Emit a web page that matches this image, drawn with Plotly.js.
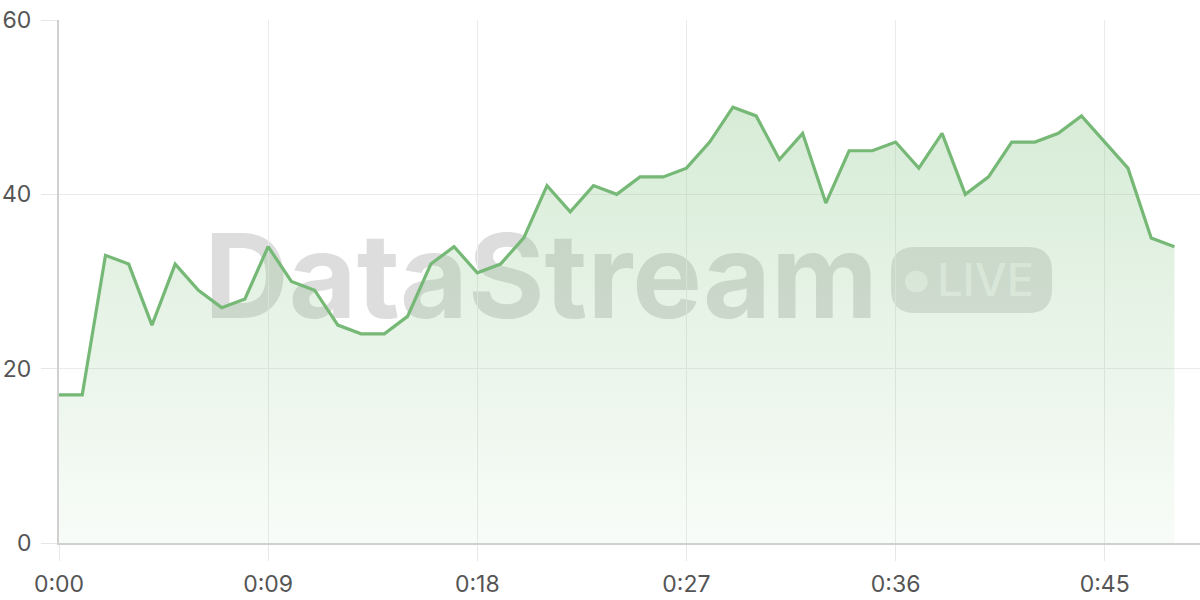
<!DOCTYPE html>
<html>
<head>
<meta charset="utf-8">
<script src="https://cdn.plot.ly/plotly-3.0.1.min.js"></script>
<style>
  html, body { margin: 0; padding: 0; background: #fff; }
  #chart { width: 1200px; height: 600px; }
</style>
</head>
<body>
<div id="chart"></div>
<script>
// seconds since start
const seconds = [0, 1, 2, 3, 4, 5, 6, 7, 8, 9, 10, 11, 12, 13, 14, 15, 16, 17, 18, 19,
  20, 21, 22, 23, 24, 25, 26, 27, 28, 29, 30, 31, 32, 33, 34, 35, 36, 37, 38, 39,
  40, 41, 42, 43, 44, 45, 46, 47, 48];
const values = [17, 17, 33, 32, 25, 32, 29, 27, 28, 34, 30, 29, 25, 24, 24, 26, 32, 34, 31, 32,
  35, 41, 38, 41, 40, 42, 42, 43, 46, 50, 49, 44, 47, 39, 45, 45, 46, 43, 47, 40,
  42, 46, 46, 47, 49, 46, 43, 35, 34];
const xTickVals = [0, 9, 18, 27, 36, 45];
const xTickText = ['0:00', '0:09', '0:18', '0:27', '0:36', '0:45'];
const yTickVals = [0, 20, 40, 60];

// plot area in page pixels, used to place the watermark
const L = 59, R = 1200, T = 20, B = 543;
const px = x => (x - L) / (R - L);
const py = y => (B - y) / (B - T);

function pillPath(x0, y0, x1, y1, r) {
  const p = (x, y) => px(x) + ',' + py(y);
  return 'M' + p(x0 + r, y0) + ' L' + p(x1 - r, y0) + ' Q' + p(x1, y0) + ' ' + p(x1, y0 + r) +
    ' L' + p(x1, y1 - r) + ' Q' + p(x1, y1) + ' ' + p(x1 - r, y1) +
    ' L' + p(x0 + r, y1) + ' Q' + p(x0, y1) + ' ' + p(x0, y1 - r) +
    ' L' + p(x0, y0 + r) + ' Q' + p(x0, y0) + ' ' + p(x0 + r, y0) + ' Z';
}

const trace = {
  x: seconds,
  y: values,
  type: 'scatter',
  mode: 'lines',
  line: { color: '#76b876', width: 3.2 },
  fill: 'tozeroy',
  fillgradient: {
    type: 'vertical',
    start: 0,
    stop: 50,
    colorscale: [[0, 'rgba(120,190,120,0.05)'], [1, 'rgba(120,190,120,0.30)']]
  },
  hoverinfo: 'skip'
};

const axisFont = { family: 'Inter, sans-serif', size: 23, color: '#555' };

const layout = {
  width: 1200,
  height: 600,
  margin: { l: L, r: 1200 - R, t: T, b: 600 - B },
  paper_bgcolor: '#fff',
  plot_bgcolor: 'rgba(0,0,0,0)',
  showlegend: false,
  xaxis: {
    range: [0, 49.1],
    tickvals: xTickVals,
    ticktext: xTickText,
    showgrid: true,
    gridcolor: '#ebebeb',
    gridwidth: 1,
    zeroline: false,
    showline: true,
    linecolor: '#d0d0d0',
    linewidth: 2,
    ticks: 'outside',
    ticklen: 16,
    tickwidth: 1,
    tickcolor: '#e6e6e6',
    ticklabelstandoff: 3,
    tickfont: axisFont
  },
  yaxis: {
    range: [0, 60],
    tickvals: yTickVals,
    showgrid: true,
    gridcolor: '#ebebeb',
    gridwidth: 1,
    zeroline: false,
    showline: true,
    linecolor: '#d0d0d0',
    linewidth: 2,
    ticks: 'outside',
    ticklen: 16,
    tickwidth: 1,
    tickcolor: '#e6e6e6',
    ticklabelstandoff: 5,
    tickfont: axisFont
  },
  shapes: [
    {
      type: 'rect', xref: 'paper', yref: 'paper', layer: 'below',
      x0: px(211), x1: px(871), y0: py(317), y1: py(226),
      line: { width: 0 }, fillcolor: 'rgba(0,0,0,0)',
      label: {
        text: 'DataStream', textposition: 'middle center',
        font: { family: 'Inter, sans-serif', size: 117, weight: 700, color: 'rgba(120,120,120,0.25)' }
      }
    },
    {
      type: 'path', xref: 'paper', yref: 'paper', layer: 'below',
      path: pillPath(891, 247, 1052, 313, 24),
      line: { width: 0 }, fillcolor: 'rgba(120,120,120,0.22)'
    },
    {
      type: 'circle', xref: 'paper', yref: 'paper', layer: 'below',
      x0: px(905), x1: px(927.6), y0: py(292.3), y1: py(270.7),
      line: { width: 0 }, fillcolor: 'rgba(255,255,255,0.55)'
    },
    {
      type: 'rect', xref: 'paper', yref: 'paper', layer: 'below',
      x0: px(938), x1: px(1033), y0: py(295), y1: py(262),
      line: { width: 0 }, fillcolor: 'rgba(0,0,0,0)',
      label: {
        text: 'LIVE', textposition: 'middle center',
        font: { family: 'Inter, sans-serif', size: 45, weight: 500, color: 'rgba(255,255,255,0.55)' }
      }
    }
  ]
};

Plotly.newPlot('chart', [trace], layout, { displayModeBar: false, staticPlot: true });
</script>
</body>
</html>
